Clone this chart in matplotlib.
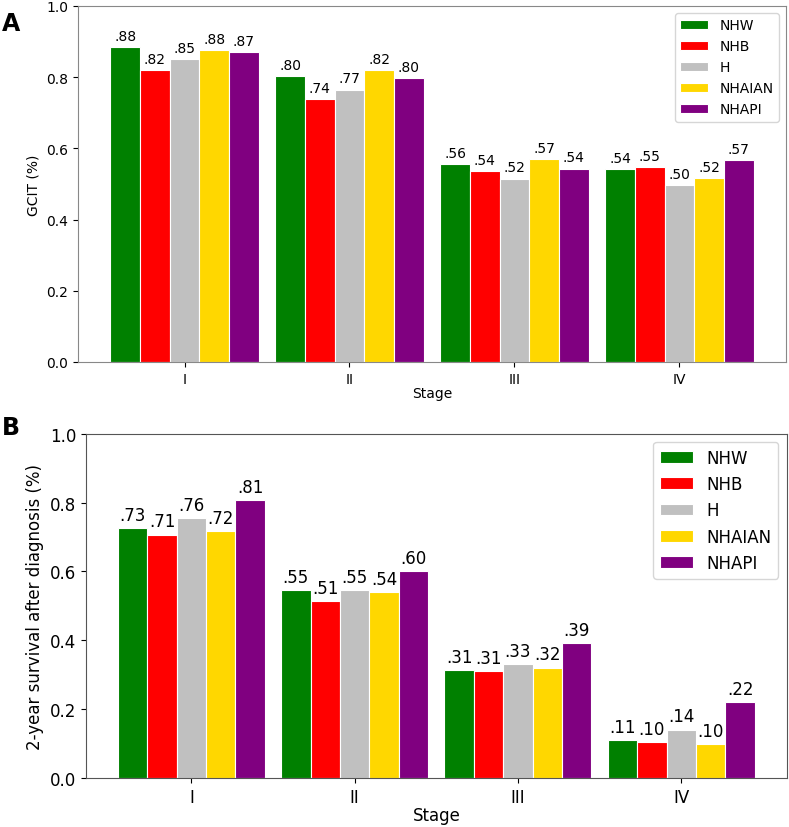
import numpy as np
import matplotlib
matplotlib.use("Agg")
import matplotlib.pyplot as plt

stages = ["I", "II", "III", "IV"]
groups = ["NHW", "NHB", "H", "NHAIAN", "NHAPI"]
colors = ["green", "red", "silver", "gold", "purple"]

# GCIT by stage (rows = groups, cols = stages)
gcit = [
    [0.884, 0.802, 0.556, 0.542],
    [0.819, 0.739, 0.536, 0.548],
    [0.851, 0.765, 0.515, 0.497],
    [0.876, 0.820, 0.570, 0.517],
    [0.871, 0.798, 0.543, 0.568],
]

# 2-year survival after diagnosis
surv = [
    [0.727, 0.546, 0.313, 0.110],
    [0.707, 0.514, 0.310, 0.104],
    [0.756, 0.546, 0.332, 0.141],
    [0.717, 0.539, 0.321, 0.100],
    [0.808, 0.602, 0.393, 0.220],
]


def draw(ax, data, ylabel, fs, spine_col):
    x = np.arange(len(stages))
    w = 0.18
    for i, g in enumerate(groups):
        pos = x + (i - 2) * w
        bars = ax.bar(pos, data[i], w, color=colors[i], edgecolor="white",
                      linewidth=0.8, label=g)
        for b, v in zip(bars, data[i]):
            ax.annotate(f"{v:.2f}"[1:], (b.get_x() + b.get_width() / 2, v),
                        xytext=(0, 3), textcoords="offset points",
                        ha="center", va="bottom", fontsize=fs)
    ax.set_xticks(x)
    ax.set_xticklabels(stages)
    ax.set_ylim(0, 1.0)
    ax.set_xlabel("Stage", fontsize=fs, labelpad=0)
    ax.set_ylabel(ylabel, fontsize=fs)
    ax.tick_params(labelsize=fs)
    for s in ax.spines.values():
        s.set_color(spine_col)
    ax.legend(loc="upper right", fontsize=fs)


fig = plt.figure(figsize=(7.89, 8.28), dpi=100)

axA = fig.add_axes([0.099, 0.5616, 0.897, 0.430])
draw(axA, gcit, "GCIT (%)", 10, "#888888")
fig.text(0.002, 0.985, "A", fontsize=17, fontweight="bold", va="top")

axB = fig.add_axes([0.109, 0.059, 0.888, 0.416])
draw(axB, surv, "2-year survival after diagnosis (%)", 12, "#555555")
fig.text(0.002, 0.497, "B", fontsize=17, fontweight="bold", va="top")

fig.savefig("out.png", dpi=100)
